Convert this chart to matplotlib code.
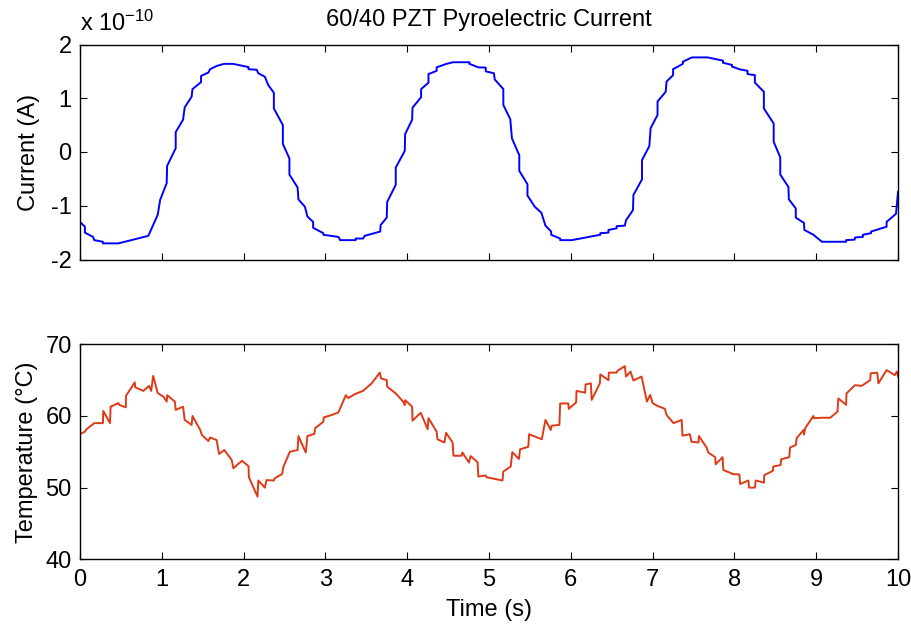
import matplotlib
matplotlib.use("Agg")
import matplotlib.pyplot as plt

plt.rcParams['font.family'] = ['Liberation Sans', 'DejaVu Sans']
plt.rcParams['mathtext.fontset'] = 'custom'
plt.rcParams['mathtext.rm'] = 'Liberation Sans'
plt.rcParams['mathtext.it'] = 'Liberation Sans'
plt.rcParams['axes.unicode_minus'] = False

# pyroelectric current, in units of 1e-10 A
t_current = [
    0.00, 0.06, 0.06, 0.16, 0.175, 0.28, 0.28, 0.47, 0.835, 0.95,
    0.98, 1.06, 1.065, 1.17, 1.17, 1.26, 1.28, 1.365, 1.375, 1.48,
    1.48, 1.57, 1.59, 1.67, 1.76, 1.87, 2.06, 2.06, 2.16, 2.18,
    2.26, 2.30, 2.37, 2.37, 2.48, 2.48, 2.56, 2.56, 2.66, 2.67,
    2.75, 2.78, 2.85, 2.85, 2.975, 2.975, 3.16, 3.18, 3.37, 3.37,
    3.46, 3.48, 3.67, 3.675, 3.75, 3.755, 3.86, 3.86, 3.97, 3.975,
    4.06, 4.065, 4.17, 4.17, 4.26, 4.26, 4.36, 4.36, 4.48, 4.56,
    4.76, 4.76, 4.87, 4.96, 4.96, 5.06, 5.07, 5.175, 5.175, 5.26,
    5.28, 5.37, 5.37, 5.47, 5.47, 5.56, 5.64, 5.69, 5.76, 5.76,
    5.87, 5.87, 6.01, 6.36, 6.36, 6.46, 6.46, 6.56, 6.56, 6.66,
    6.675, 6.76, 6.765, 6.87, 6.87, 6.96, 6.975, 7.06, 7.06, 7.16,
    7.17, 7.25, 7.25, 7.37, 7.37, 7.48, 7.67, 7.86, 7.86, 7.97,
    7.97, 8.06, 8.16, 8.16, 8.25, 8.25, 8.36, 8.36, 8.48, 8.48,
    8.56, 8.56, 8.66, 8.665, 8.75, 8.75, 8.85, 8.855, 8.965, 9.07,
    9.365, 9.365, 9.47, 9.475, 9.57, 9.57, 9.67, 9.67, 9.86, 9.86,
    9.975, 9.985, 10.0,
]
current = [
    -1.30, -1.39, -1.50, -1.58, -1.64, -1.67, -1.70, -1.70, -1.56, -1.17,
    -0.89, -0.58, -0.26, 0.07, 0.37, 0.60, 0.83, 1.03, 1.17, 1.30,
    1.415, 1.48, 1.54, 1.60, 1.64, 1.64, 1.58, 1.54, 1.53, 1.465,
    1.40, 1.25, 1.10, 0.81, 0.50, 0.15, -0.12, -0.42, -0.66, -0.88,
    -1.02, -1.20, -1.30, -1.41, -1.51, -1.54, -1.58, -1.64, -1.64, -1.61,
    -1.61, -1.56, -1.48, -1.36, -1.22, -0.93, -0.61, -0.29, 0.02, 0.335,
    0.60, 0.825, 1.02, 1.17, 1.29, 1.45, 1.51, 1.575, 1.64, 1.67,
    1.67, 1.64, 1.575, 1.57, 1.50, 1.465, 1.35, 1.17, 0.875, 0.61,
    0.255, -0.06, -0.35, -0.60, -0.81, -1.02, -1.13, -1.37, -1.48, -1.54,
    -1.61, -1.64, -1.64, -1.54, -1.51, -1.50, -1.45, -1.42, -1.38, -1.37,
    -1.27, -1.08, -0.80, -0.51, -0.15, 0.11, 0.44, 0.69, 0.94, 1.12,
    1.31, 1.43, 1.54, 1.64, 1.68, 1.76, 1.76, 1.70, 1.66, 1.62,
    1.59, 1.54, 1.51, 1.45, 1.43, 1.29, 1.12, 0.81, 0.53, 0.19,
    -0.10, -0.42, -0.65, -0.88, -1.05, -1.22, -1.32, -1.45, -1.54, -1.67,
    -1.67, -1.64, -1.63, -1.59, -1.58, -1.54, -1.51, -1.48, -1.39, -1.30,
    -1.15, -0.99, -0.74,
]

# sample temperature, degC
t_temp = [
    0.00, 0.06, 0.08, 0.175, 0.28, 0.285, 0.367, 0.375, 0.47, 0.48,
    0.56, 0.562, 0.67, 0.675, 0.775, 0.845, 0.87, 0.895, 0.95, 1.02,
    1.06, 1.067, 1.16, 1.17, 1.26, 1.28, 1.365, 1.375, 1.47, 1.49,
    1.57, 1.59, 1.67, 1.70, 1.765, 1.855, 1.875, 1.98, 2.06, 2.065,
    2.17, 2.18, 2.26, 2.28, 2.37, 2.38, 2.47, 2.485, 2.565, 2.66,
    2.67, 2.76, 2.78, 2.865, 2.875, 2.975, 2.98, 3.08, 3.16, 3.18,
    3.25, 3.28, 3.36, 3.46, 3.565, 3.665, 3.68, 3.75, 3.755, 3.86,
    3.95, 3.97, 3.975, 4.06, 4.065, 4.165, 4.25, 4.26, 4.36, 4.37,
    4.455, 4.475, 4.555, 4.565, 4.665, 4.675, 4.755, 4.775, 4.86, 4.87,
    4.96, 4.97, 5.165, 5.175, 5.265, 5.285, 5.365, 5.38, 5.48, 5.49,
    5.645, 5.69, 5.755, 5.765, 5.86, 5.87, 5.97, 5.975, 6.065, 6.07,
    6.175, 6.18, 6.245, 6.255, 6.355, 6.36, 6.46, 6.465, 6.56, 6.57,
    6.66, 6.675, 6.73, 6.765, 6.865, 6.93, 6.97, 7.0, 7.06, 7.15,
    7.17, 7.255, 7.355, 7.365, 7.455, 7.475, 7.56, 7.565, 7.66, 7.68,
    7.765, 7.77, 7.855, 7.865, 7.965, 7.97, 8.06, 8.07, 8.17, 8.18,
    8.25, 8.26, 8.36, 8.365, 8.47, 8.475, 8.565, 8.57, 8.67, 8.68,
    8.75, 8.76, 8.845, 8.85, 8.865, 8.965, 8.97, 9.065, 9.17, 9.26,
    9.27, 9.365, 9.37, 9.475, 9.555, 9.66, 9.665, 9.745, 9.76, 9.86,
    9.96, 9.985, 10.0,
]
temperature = [
    57.5, 57.8, 58.15, 59.0, 59.0, 60.7, 59.0, 61.3, 61.8, 61.55,
    61.2, 62.8, 64.7, 64.0, 63.5, 64.2, 63.5, 65.6, 63.2, 62.7,
    62.0, 62.9, 62.0, 60.85, 61.3, 59.45, 58.75, 60.0, 58.05, 57.35,
    56.5, 57.0, 56.65, 54.7, 55.25, 53.85, 52.7, 53.75, 53.0, 51.45,
    48.75, 51.0, 50.0, 51.05, 51.0, 51.3, 51.9, 52.85, 55.0, 55.25,
    57.2, 54.9, 57.2, 57.5, 58.3, 59.2, 59.8, 60.15, 60.5, 61.05,
    62.9, 62.5, 63.05, 63.5, 64.55, 66.05, 65.25, 65.0, 64.1, 63.15,
    62.0, 61.5, 62.2, 61.3, 59.35, 60.45, 58.15, 59.7, 57.8, 56.75,
    56.3, 57.65, 56.3, 54.45, 54.45, 54.9, 53.5, 54.4, 53.55, 51.55,
    51.7, 51.45, 51.0, 52.25, 52.95, 54.95, 54.0, 55.35, 55.7, 57.45,
    56.75, 59.45, 58.05, 58.65, 58.75, 61.75, 61.75, 61.0, 61.9, 63.5,
    63.25, 64.4, 64.55, 62.25, 64.55, 65.8, 65.0, 66.05, 66.05, 66.3,
    66.95, 65.5, 66.2, 64.95, 65.5, 62.0, 62.95, 61.8, 61.4, 61.0,
    60.15, 59.0, 59.45, 57.25, 57.45, 56.4, 56.3, 57.2, 55.6, 54.9,
    54.25, 53.25, 54.25, 52.45, 52.0, 51.9, 51.85, 50.5, 51.0, 50.0,
    50.0, 51.0, 50.7, 51.75, 52.35, 52.95, 53.15, 53.95, 54.25, 55.6,
    55.95, 56.9, 58.05, 57.4, 58.3, 60.0, 59.7, 59.75, 59.75, 60.6,
    62.45, 61.55, 63.15, 64.3, 64.2, 65.0, 65.95, 66.05, 64.55, 66.4,
    65.7, 66.2, 65.5,
]

x_ticks = list(range(0, 11))
current_ticks = [-2, -1, 0, 1, 2]
temp_ticks = [40, 50, 60, 70]

FS = 17

fig = plt.figure(figsize=(9.12, 6.25), dpi=100)
ax1 = fig.add_axes([0.0877, 0.5848, 0.8970, 0.3440])
ax2 = fig.add_axes([0.0877, 0.1051, 0.8970, 0.3440])

ax1.plot(t_current, current, color='#0000FF', lw=1.4)
ax2.plot(t_temp, temperature, color='#DE3A16', lw=1.4)

for ax in (ax1, ax2):
    ax.set_xlim(0, 10)
    ax.set_xticks(x_ticks)
    ax.tick_params(direction='in', length=5, width=0.8, top=True, right=True,
                   labelsize=FS)
    ax.tick_params(axis='y', pad=6)
    ax.tick_params(axis='x', pad=7)
    for sp in ax.spines.values():
        sp.set_linewidth(1.0)

ax1.set_ylim(-2, 2)
ax1.set_yticks(current_ticks)
ax1.tick_params(labelbottom=False)
ax1.set_ylabel('Current (A)', fontsize=FS, labelpad=8)
ax1.set_title('60/40 PZT Pyroelectric Current', fontsize=FS, pad=13)
ax1.text(0.0, 1.04, r'x 10$^{-10}$', transform=ax1.transAxes,
         fontsize=FS, ha='left', va='bottom')

ax2.set_ylim(40, 70)
ax2.set_yticks(temp_ticks)
ax2.set_ylabel('Temperature (°C)', fontsize=FS, labelpad=5)
ax2.set_xlabel('Time (s)', fontsize=FS, labelpad=6)

fig.savefig('out.png', dpi=100)
